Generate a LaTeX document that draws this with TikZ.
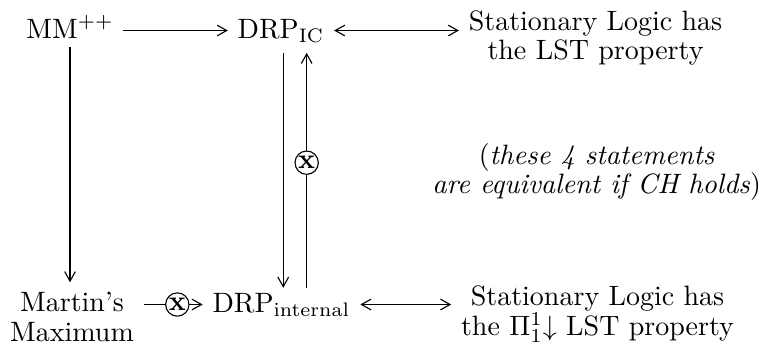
\documentclass[tikz,border=0pt]{standalone}
\usepackage{amsmath,amssymb}
\usepackage{tikz}
\usetikzlibrary{arrows,arrows.meta,positioning}

\begin{document}
\begin{tikzpicture}[>={Straight Barb[length=3.4pt,width=3.8pt]},
                    row/.style={text height=1.5ex, text depth=.25ex, inner ysep=2pt},
                    twoline/.style={align=center},
                    cross/.style={circle, draw, fill=white, inner sep=0.3pt, font=\bfseries}]
          \useasboundingbox (0,0) rectangle (9.602,-4.355);
          \node[row] (mm) at (0.879,-0.383) {MM$^{++}$};
          \node[row] (drpic) at (3.527,-0.383) {DRP$_\mathrm{IC}$};
          \node[twoline] (lst) at (7.475,-0.477)
               {Stationary Logic has\\[-1.3pt] the LST property};
          \node[twoline] (mmax) at (0.904,-3.979) {Martin's\\[-1.3pt] Maximum};
          \node[row] (drpint) at (3.533,-3.822) {DRP$_\mathrm{internal}$};
          \node[twoline] (lstpi) at (7.50,-3.939)
               {Stationary Logic has\\[-1.3pt] the $\Pi^1_1{\downarrow}$ LST property};
          \node[twoline] (note) at (7.49,-2.159)
               {(\textit{these 4 statements}\\[-1.3pt] \textit{are equivalent if CH holds})};
          \draw[->] (mm) -- (drpic);
          \draw[<->] (drpic) -- (drpic -| lst.west);
          \draw[->] (mm.south) -- (mm.south |- mmax.north);
          \draw[->, shorten <=2pt] ([xshift=0.8pt]drpic.south) -- ([xshift=0.8pt]drpic.south |- drpint.north);
          \draw[->, shorten >=2pt] ([xshift=9pt]drpint.north)
               -- node[cross, pos=0.52] (xup) {x} ([xshift=9pt]drpint.north |- drpic.south);
          \draw[->] (mmax.east |- drpint) -- node[cross, pos=0.57] (xmm) {x} (drpint);
          \draw[<->] (drpint) -- (drpint -| lstpi.west);
        \end{tikzpicture}
\end{document}
